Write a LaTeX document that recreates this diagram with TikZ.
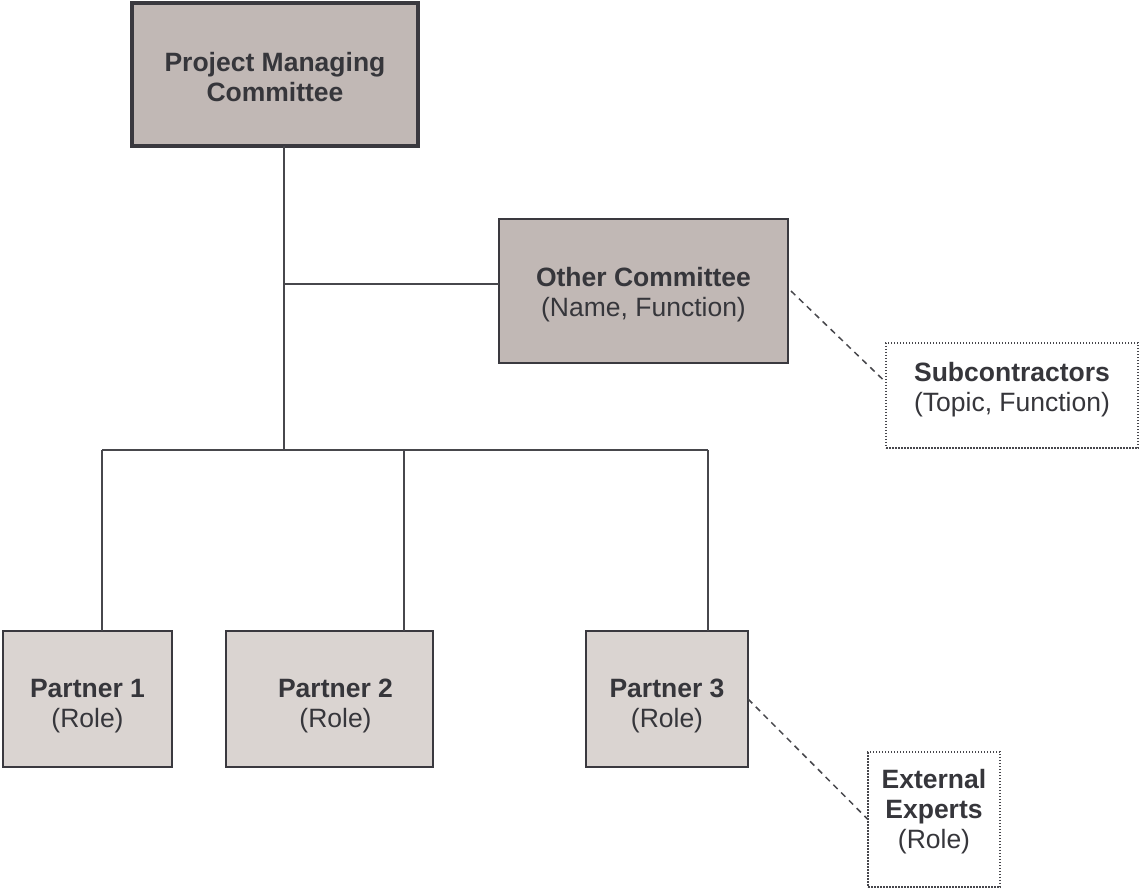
\documentclass[tikz,border=0pt]{standalone}
\usepackage{fontspec}
\setmainfont{Liberation Sans}
\definecolor{txt}{HTML}{36363B}
\definecolor{edge}{HTML}{3A393F}
\definecolor{darkfill}{HTML}{C1B8B5}
\definecolor{lightfill}{HTML}{DAD4D1}
\definecolor{conn}{HTML}{47474C}
\tikzset{
  base/.style={anchor=north west, inner sep=0pt, outer sep=0pt},
  mainbox/.style={base, draw=edge, line width=4bp, fill=darkfill},
  combox/.style={base, draw=edge, line width=2bp, fill=darkfill},
  partbox/.style={base, draw=edge, line width=2bp, fill=lightfill},
  extbox/.style={base, draw=conn, line width=1.5bp, dash pattern=on 1.5bp off 1.5bp, fill=white},
  label text/.style={inner sep=0pt, align=center, text=txt,
    font=\fontsize{26.5bp}{30bp}\selectfont},
  conline/.style={draw=conn, line width=2bp},
  dashline/.style={draw=conn, line width=1.5bp, dash pattern=on 6bp off 5bp}
}
\begin{document}
\begin{tikzpicture}[x=1bp, y=-1bp]
\useasboundingbox[fill=white] (0,0) rectangle (1140,890);
% boxes
\node[mainbox, minimum width=286bp, minimum height=143bp] (pmc) at (132,3) {};
\node[combox, minimum width=289bp, minimum height=144bp] (oc) at (499,219) {};
\node[extbox, minimum width=252bp, minimum height=105bp] (sub) at (886,343) {};
\node[partbox, minimum width=169bp, minimum height=136bp] (p1) at (3,631) {};
\node[partbox, minimum width=207bp, minimum height=136bp] (p2) at (226,631) {};
\node[partbox, minimum width=162bp, minimum height=136bp] (p3) at (586,631) {};
\node[extbox, minimum width=132bp, minimum height=135bp] (ext) at (868,752) {};
% texts
\node[label text] (pmct) at ([yshift=-3bp]pmc.center) {\textbf{Project Managing}\\\textbf{Committee}};
\node[label text] (oct) at ([yshift=-4bp]oc.center) {\textbf{Other Committee}\\(Name, Function)};
\node[label text] (subt) at ([yshift=6bp]sub.center) {\textbf{Subcontractors}\\(Topic, Function)};
\node[label text] (p1t) at ([yshift=-7bp]p1.center) {\textbf{Partner 1}\\(Role)};
\node[label text] (p2t) at ([xshift=6bp,yshift=-7bp]p2.center) {\textbf{Partner 2}\\(Role)};
\node[label text] (p3t) at ([yshift=-7bp]p3.center) {\textbf{Partner 3}\\(Role)};
\node[label text] (extt) at ([yshift=8bp]ext.center) {\textbf{External}\\\textbf{Experts}\\(Role)};
% connectors
\coordinate (mid) at (284,284);
\coordinate (hub) at (284,450);
\coordinate (b1) at (102,450);
\coordinate (b2) at (404,450);
\coordinate (b3) at (708,450);
\draw[conline] (pmc.south -| hub) -- (hub);
\draw[conline] (mid) -- (mid -| oc.west);
\draw[conline] (b1) -- (b3);
\draw[conline] (b1) -- (b1 |- p1.north);
\draw[conline] (b2) -- (b2 |- p2.north);
\draw[conline] (b3) -- (b3 |- p3.north);
\draw[dashline] ([xshift=3bp]oc.east) -- ([yshift=13bp]sub.west);
\draw[dashline] (p3.east) -- (ext.west);
\end{tikzpicture}
\end{document}
